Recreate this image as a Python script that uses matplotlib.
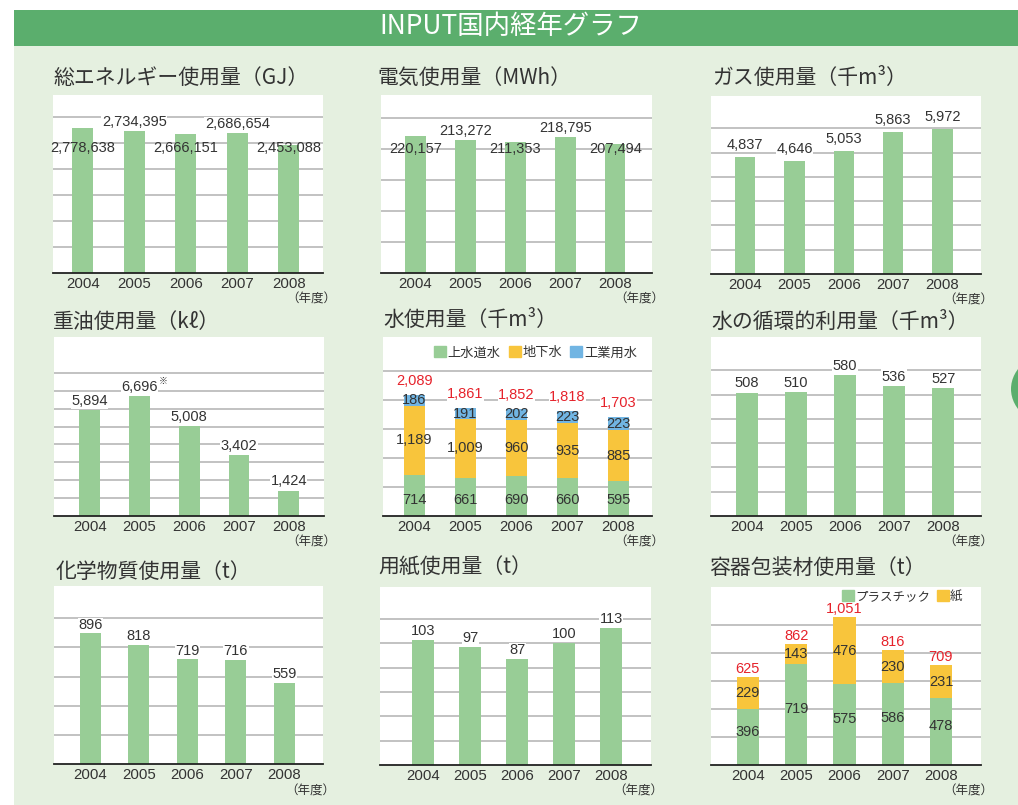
import matplotlib
matplotlib.use("Agg")
import matplotlib.pyplot as plt
from matplotlib.patches import Rectangle, Circle, Patch
import numpy as np

plt.rcParams['font.family'] = ['Noto Sans CJK JP', 'DejaVu Sans']

# ---------------- data ----------------
years = ['2004', '2005', '2006', '2007', '2008']
energy = [2778638, 2734395, 2666151, 2686654, 2453088]
electricity = [220157, 213272, 211353, 218795, 207494]
gas = [4837, 4646, 5053, 5863, 5972]
heavy_oil = [5894, 6696, 5008, 3402, 1424]
water_city = [714, 661, 690, 660, 595]
water_ground = [1189, 1009, 960, 935, 885]
water_industrial = [186, 191, 202, 223, 223]
water_total = [2089, 1861, 1852, 1818, 1703]
recycled_water = [508, 510, 580, 536, 527]
chemicals = [896, 818, 719, 716, 559]
paper = [103, 97, 87, 100, 113]
pack_plastic = [396, 719, 575, 586, 478]
pack_paper = [229, 143, 476, 230, 231]
pack_total = [625, 862, 1051, 816, 709]

titles = ['総エネルギー使用量（GJ）', '電気使用量（MWh）', 'ガス使用量（千m³）',
          '重油使用量（kℓ）', '水使用量（千m³）', '水の循環的利用量（千m³）',
          '化学物質使用量（t）', '用紙使用量（t）', '容器包装材使用量（t）']
water_legend = ['上水道水', '地下水', '工業用水']
pack_legend = ['プラスチック', '紙']
header = 'INPUT国内経年グラフ'
unit_label = '（年度）'

# ---------------- style ----------------
W, H = 1018, 805
GREEN = '#98cd96'
YELLOW = '#f8c53c'
BLUE = '#71b5e3'
HEADER = '#5bae6d'
BG = '#e5f0e0'
GRID = '#bdbdbd'
TXT = '#333333'
RED = '#e6222b'
NUMFONT = ['Liberation Sans', 'DejaVu Sans']

fig = plt.figure(figsize=(W / 100, H / 100), dpi=100)
fig.patch.set_facecolor('white')

def fx(x):
    return x / W

def fy(y):
    return 1 - y / H

fig.patches.append(Rectangle((fx(14), 0), fx(W - 14), fy(46), transform=fig.transFigure,
                             facecolor=BG, edgecolor='none', zorder=-10))
fig.patches.append(Rectangle((fx(14), fy(46)), fx(W - 14), (46 - 10) / H, transform=fig.transFigure,
                             facecolor=HEADER, edgecolor='none', zorder=-10))
fig.patches.append(Circle((fx(1060), fy(389)), 49 / W, transform=fig.transFigure,
                          facecolor=HEADER, edgecolor='none', zorder=-10))
fig.text(fx(511), fy(27), header, color='white', fontsize=19, ha='center', va='center')


def make_axes(rect, ymax, step, gtop, xlim, title, tx, ty):
    l, t, r, b = rect
    ax = fig.add_axes([fx(l), fy(b), (r - l) / W, (b - t) / H])
    ax.set_facecolor('white')
    ax.set_xlim(*xlim)
    ax.set_ylim(0, ymax)
    for s in ['top', 'right', 'left']:
        ax.spines[s].set_visible(False)
    ax.spines['bottom'].set_color('#222222')
    ax.spines['bottom'].set_linewidth(1.3)
    ax.set_yticks([])
    for g in np.arange(step, gtop + step / 2, step):
        ax.axhline(g, color=GRID, lw=1.3, zorder=0.5)
    ax.set_xticks(range(len(years)))
    ax.set_xticklabels(years, fontsize=10.8, color=TXT, family=NUMFONT)
    ax.tick_params(axis='x', length=0, pad=3)
    ax.annotate(unit_label, xy=(1, 0), xycoords='axes fraction', xytext=(9, -19),
                textcoords='offset points', ha='right', va='center', fontsize=9, color=TXT)
    fig.text(fx(tx), fy(ty), title, fontsize=15, color=TXT, ha='left', va='center')
    return ax


def above_labels(ax, vals, skip=(), off=1.5, color=TXT, bbox=True, size=10.5):
    xs = np.arange(len(vals))
    for i, v in enumerate(vals):
        if i in skip:
            continue
        ax.annotate(f'{v:,}', xy=(xs[i], v), xytext=(0, off), textcoords='offset points',
                    ha='center', va='bottom', fontsize=size, color=color, family=NUMFONT, zorder=6,
                    bbox=dict(facecolor='white', edgecolor='none', pad=0.3) if bbox else None)


x = np.arange(len(years))

# 1 energy
ax = make_axes((53.3, 95, 323.3, 273), 3.42e6, 5e5, 3e6, (-0.57, 4.67), titles[0], 53, 78)
ax.bar(x, energy, width=0.40, color=GREEN, zorder=2)
above_labels(ax, energy, skip=(0, 2, 4), off=1.5)
for i in (0, 2, 4):
    ax.text(x[i], 2.40e6, f'{energy[i]:,}', ha='center', va='center', fontsize=10.5,
            color=TXT, family=NUMFONT, zorder=5)

# 2 electricity
ax = make_axes((381, 95, 651.7, 272.7), 286.6e3, 5e4, 2.5e5, (-0.69, 4.73), titles[1], 377, 78)
ax.bar(x, electricity, width=0.41, color=GREEN, zorder=2)
above_labels(ax, electricity, skip=(0, 2, 4), off=1.5)
for i in (0, 2, 4):
    ax.text(x[i], 2.0e5, f'{electricity[i]:,}', ha='center', va='center', fontsize=10.5,
            color=TXT, family=NUMFONT, zorder=5)

# 3 gas
ax = make_axes((711, 95.7, 981, 274), 7340, 1000, 6000, (-0.69, 4.78), titles[2], 712, 78)
ax.bar(x, gas, width=0.41, color=GREEN, zorder=2)
above_labels(ax, gas, off=3.5)

# 4 heavy oil
ax = make_axes((54, 337, 324, 516), 10000, 1000, 8000, (-0.72, 4.71), titles[3], 53, 322)
ax.bar(x, heavy_oil, width=0.42, color=GREEN, zorder=2)
above_labels(ax, heavy_oil, off=1.5)
ax.annotate('※', xy=(x[1], heavy_oil[1]), xytext=(13.5, 7), textcoords='offset points',
            ha='left', va='bottom', fontsize=6.5, color=TXT, zorder=6)

# 5 water
ax = make_axes((382.7, 336.7, 651.7, 516), 3091, 500, 2500, (-0.62, 4.65), titles[4], 383, 320)
b1 = np.array(water_city)
b2 = b1 + np.array(water_ground)
ax.bar(x, water_city, width=0.41, color=GREEN, zorder=2)
ax.bar(x, water_ground, bottom=b1, width=0.41, color=YELLOW, zorder=2)
ax.bar(x, water_industrial, bottom=b2, width=0.41, color=BLUE, zorder=2)
for i in range(len(years)):
    ax.text(x[i], 275, f'{water_city[i]:,}', ha='center', va='center', fontsize=10.5,
            color=TXT, family=NUMFONT, zorder=5)
    ax.text(x[i], b1[i] + water_ground[i] / 2, f'{water_ground[i]:,}', ha='center', va='center',
            fontsize=10.5, color=TXT, family=NUMFONT, zorder=5)
    ax.text(x[i], b2[i] + water_industrial[i] / 2, f'{water_industrial[i]:,}', ha='center',
            va='center', fontsize=10.5, color=TXT, family=NUMFONT, zorder=5)
above_labels(ax, water_total, off=5, color=RED)
ax.legend(handles=[Patch(color=GREEN), Patch(color=YELLOW), Patch(color=BLUE)], labels=water_legend,
          ncol=3, loc='upper right', bbox_to_anchor=(0.965, 0.975), frameon=False, fontsize=9.5,
          handlelength=0.9, handleheight=0.9, handletextpad=0.15, columnspacing=0.6,
          labelcolor=TXT, borderaxespad=0)

# 6 recycled water
ax = make_axes((711, 336.7, 981, 516), 738, 100, 600, (-0.73, 4.77), titles[5], 711, 322)
ax.bar(x, recycled_water, width=0.45, color=GREEN, zorder=2)
above_labels(ax, recycled_water, off=1.5)

# 7 chemicals
ax = make_axes((54, 586, 322.7, 764.3), 1221, 200, 1000, (-0.75, 4.79), titles[6], 56, 572)
ax.bar(x, chemicals, width=0.43, color=GREEN, zorder=2)
above_labels(ax, chemicals, off=1.0)

# 8 paper
ax = make_axes((380, 586.7, 651, 765), 146.7, 20, 120, (-0.92, 4.85), titles[7], 378, 568)
ax.bar(x, paper, width=0.47, color=GREEN, zorder=2)
above_labels(ax, paper, off=1.5)

# 9 packaging
ax = make_axes((710.7, 586.7, 981, 765), 1270, 200, 1000, (-0.77, 4.83), titles[8], 709, 568)
ax.bar(x, pack_plastic, width=0.46, color=GREEN, zorder=2)
ax.bar(x, pack_paper, bottom=pack_plastic, width=0.46, color=YELLOW, zorder=2)
for i in range(len(years)):
    ax.text(x[i], pack_plastic[i] / 2 + 40, f'{pack_plastic[i]:,}', ha='center', va='center',
            fontsize=10.5, color=TXT, family=NUMFONT, zorder=5)
    ax.text(x[i], pack_plastic[i] + pack_paper[i] / 2, f'{pack_paper[i]:,}', ha='center',
            va='center', fontsize=10.5, color=TXT, family=NUMFONT, zorder=5)
above_labels(ax, pack_total, off=1.0, color=RED, bbox=False)
leg = ax.legend(handles=[Patch(color=GREEN), Patch(color=YELLOW)], labels=pack_legend,
                ncol=2, loc='upper right', bbox_to_anchor=(0.95, 1.01), frameon=False, fontsize=9,
                handlelength=0.9, handleheight=0.9, handletextpad=0.1, columnspacing=0.6,
                labelcolor=TXT, borderaxespad=0)
leg.set_zorder(7)

fig.savefig('out.png', dpi=100)
